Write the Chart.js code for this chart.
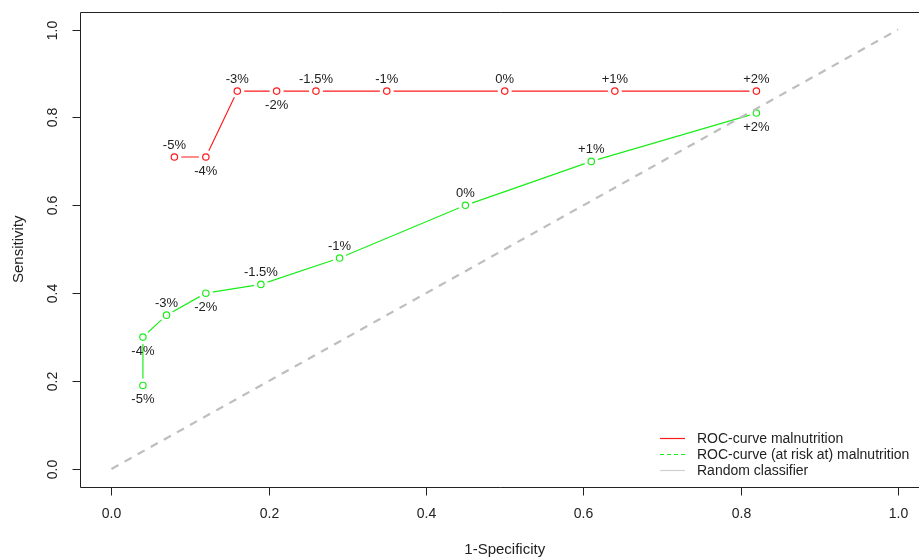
<!DOCTYPE html>
<html><head><meta charset="utf-8">
<script src="https://cdn.jsdelivr.net/npm/chart.js@4"></script>
<style>html,body{margin:0;padding:0;background:#fff;overflow:hidden}</style>
</head><body>
<canvas id="c" width="919" height="558"></canvas>
<script>
// ---- data ----
const redX = [0.08, 0.12, 0.16, 0.21, 0.26, 0.35, 0.50, 0.64, 0.82];
const redY = [0.71, 0.71, 0.86, 0.86, 0.86, 0.86, 0.86, 0.86, 0.86];
const redLabels = ['-5%', '-4%', '-3%', '-2%', '-1.5%', '-1%', '0%', '+1%', '+2%'];
const greenX = [0.04, 0.04, 0.07, 0.12, 0.19, 0.29, 0.45, 0.61, 0.82];
const greenY = [0.19, 0.30, 0.35, 0.40, 0.42, 0.48, 0.60, 0.70, 0.81];
const greenLabels = ['-5%', '-4%', '-3%', '-2%', '-1.5%', '-1%', '0%', '+1%', '+2%'];
const diagX = [0, 1];
const diagY = [0, 1];
const xTicks = [0, 0.2, 0.4, 0.6, 0.8, 1.0];
const xTickLabels = ['0.0', '0.2', '0.4', '0.6', '0.8', '1.0'];
const yTicks = [0, 0.2, 0.4, 0.6, 0.8, 1.0];
const yTickLabels = ['0.0', '0.2', '0.4', '0.6', '0.8', '1.0'];
const seriesNames = ['ROC-curve malnutrition', 'ROC-curve (at risk at) malnutrition', 'Random classifier'];
const xTitle = '1-Specificity';
const yTitle = 'Sensitivity';

// label placement (above / below point)
const redLabelSide = ['above', 'below', 'above', 'below', 'above', 'above', 'above', 'above', 'above'];
const greenLabelSide = ['below', 'below', 'above', 'below', 'above', 'above', 'above', 'above', 'below'];

// ---- styles ----
const RED = '#ff1a1a';
const GREEN = '#1aee1a';
const GREY = '#bebebe';
const INK = '#222222';
const FAM = '"Liberation Sans", Arial, sans-serif';
const LABEL_FONT = '13px ' + FAM;
const TICK_FONT = '14px ' + FAM;
const TITLE_FONT = '15px ' + FAM;
const LEGEND_FONT = '14px ' + FAM;

const pts = (xs, ys) => xs.map((x, i) => ({x: x, y: ys[i]}));

const lineDs = (xs, ys, color) => ({
  data: pts(xs, ys), showLine: true, borderColor: color, borderWidth: 1.2,
  pointRadius: 0, order: 3
});
const maskDs = (xs, ys) => ({
  data: pts(xs, ys), showLine: false, pointRadius: 7, pointBorderWidth: 0,
  pointBackgroundColor: '#ffffff', pointBorderColor: '#ffffff', order: 2
});
const pointDs = (xs, ys, color) => ({
  data: pts(xs, ys), showLine: false, pointRadius: 3.2, pointBorderWidth: 1.2,
  pointBackgroundColor: '#ffffff', pointBorderColor: color, order: 1
});

const rAxes = {
  id: 'rAxes',
  afterDatasetsDraw(chart) {
    const ctx = chart.ctx;
    const xs = chart.scales.x, ys = chart.scales.y;
    const a = chart.chartArea;
    ctx.save();
    ctx.fillStyle = INK;
    ctx.textAlign = 'center';
    ctx.textBaseline = 'middle';
    // point labels
    ctx.font = LABEL_FONT;
    const drawLabels = (xv, yv, labs, side) => {
      labs.forEach((t, i) => {
        const px = xs.getPixelForValue(xv[i]);
        const py = ys.getPixelForValue(yv[i]);
        ctx.fillText(t, px, side[i] === 'above' ? py - 12 : py + 14);
      });
    };
    drawLabels(redX, redY, redLabels, redLabelSide);
    drawLabels(greenX, greenY, greenLabels, greenLabelSide);

    // box (left, top, bottom)
    ctx.strokeStyle = INK;
    ctx.lineWidth = 1;
    const L = Math.round(a.left) + 0.5, T = Math.round(a.top) + 0.5, B = Math.round(a.bottom) + 0.5;
    ctx.beginPath();
    ctx.moveTo(a.right + 5, T); ctx.lineTo(L, T); ctx.lineTo(L, B); ctx.lineTo(a.right + 5, B);
    ctx.stroke();
    ctx.font = TICK_FONT;
    // x ticks
    xTicks.forEach((v, i) => {
      const px = Math.round(xs.getPixelForValue(v)) + 0.5;
      ctx.beginPath(); ctx.moveTo(px, B); ctx.lineTo(px, B + 8); ctx.stroke();
      ctx.fillText(xTickLabels[i], px, B + 27);
    });
    // y ticks
    yTicks.forEach((v, i) => {
      const py = Math.round(ys.getPixelForValue(v)) + 0.5;
      ctx.beginPath(); ctx.moveTo(L, py); ctx.lineTo(L - 8, py); ctx.stroke();
      ctx.save();
      ctx.translate(L - 27, py);
      ctx.rotate(-Math.PI / 2);
      ctx.fillText(yTickLabels[i], 0, 0);
      ctx.restore();
    });
    // titles
    ctx.font = TITLE_FONT;
    const midX = (xs.getPixelForValue(-0.04) + xs.getPixelForValue(1.04)) / 2;
    ctx.fillText(xTitle, midX, B + 62);
    ctx.save();
    ctx.translate(L - 62, (a.top + a.bottom) / 2);
    ctx.rotate(-Math.PI / 2);
    ctx.fillText(yTitle, 0, 0);
    ctx.restore();

    // legend
    ctx.font = LEGEND_FONT;
    const lx0 = 660, lx1 = 685, tx = 697;
    const rows = [438, 454, 470];
    const lcol = [RED, GREEN, '#cfcfcf'];
    const ldash = [[], [4, 3], []];
    ctx.textAlign = 'left';
    seriesNames.forEach((n, i) => {
      ctx.strokeStyle = lcol[i];
      ctx.lineWidth = 1.2;
      ctx.setLineDash(ldash[i]);
      ctx.beginPath(); ctx.moveTo(lx0, rows[i] + 0.5); ctx.lineTo(lx1, rows[i] + 0.5); ctx.stroke();
      ctx.setLineDash([]);
      ctx.fillStyle = INK;
      ctx.fillText(n, tx, rows[i] + 1);
    });
    ctx.restore();
  }
};

new Chart(document.getElementById('c'), {
  type: 'scatter',
  data: {
    datasets: [
      {label: seriesNames[2], data: pts(diagX, diagY), showLine: true, borderColor: GREY,
       borderWidth: 2.2, borderDash: [8, 7], pointRadius: 0, order: 0},
      Object.assign({label: seriesNames[0]}, lineDs(redX, redY, RED)),
      Object.assign({label: seriesNames[1]}, lineDs(greenX, greenY, GREEN)),
      maskDs(redX, redY),
      maskDs(greenX, greenY),
      pointDs(redX, redY, RED),
      pointDs(greenX, greenY, GREEN)
    ]
  },
  options: {
    responsive: false,
    animation: false,
    events: [],
    layout: {autoPadding: false, padding: {left: 80, top: 12, right: 0, bottom: 71.5}},
    plugins: {legend: {display: false}, tooltip: {enabled: false}},
    scales: {
      x: {type: 'linear', min: -0.04, max: 1.0267, display: false},
      y: {type: 'linear', min: -0.04, max: 1.04, display: false}
    }
  },
  plugins: [rAxes]
});
</script>
</body></html>
